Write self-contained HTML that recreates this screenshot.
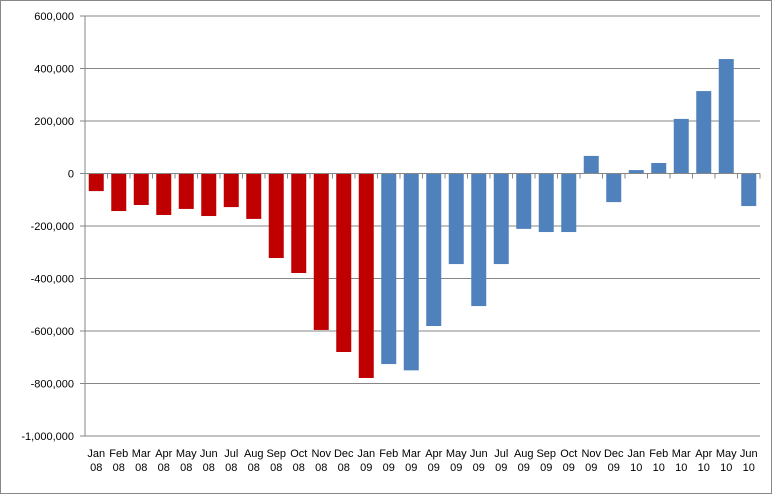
<!DOCTYPE html>
<html><head><meta charset="utf-8"><style>
body{margin:0;background:#fff;}
svg{display:block;font-family:"Liberation Sans",Arial,sans-serif;font-size:11px;}
</style></head><body>
<svg id="chart" width="772" height="494">
<rect x="0.5" y="0.5" width="771" height="493" fill="#fff" stroke="#888"/>
<g id="grid"></g><g id="bars"></g><g id="axes"></g><g id="labels"></g>
</svg>
<script>
const categories=["Jan 08","Feb 08","Mar 08","Apr 08","May 08","Jun 08","Jul 08","Aug 08","Sep 08","Oct 08","Nov 08","Dec 08","Jan 09","Feb 09","Mar 09","Apr 09","May 09","Jun 09","Jul 09","Aug 09","Sep 09","Oct 09","Nov 09","Dec 09","Jan 10","Feb 10","Mar 10","Apr 10","May 10","Jun 10"];
const values=[-67000,-143000,-120000,-158000,-135000,-162000,-128000,-173000,-322000,-379000,-596000,-680000,-779000,-726000,-750000,-581000,-345000,-505000,-345000,-211000,-223000,-223000,67000,-109000,13000,40000,208000,314000,436000,-124000];
const redCount=13;
const yTicks=[600000,400000,200000,0,-200000,-400000,-600000,-800000,-1000000];
const yMax=600000,yMin=-1000000;
const plotLeft=85,plotRight=760,plotTop=16,plotBottom=436;
const ns="http://www.w3.org/2000/svg";
function yScale(v){return plotTop+(yMax-v)/(yMax-yMin)*(plotBottom-plotTop);}
const step=(plotRight-plotLeft)/categories.length;
function xc(i){return plotLeft+step*(i+0.5);}
function mk(t,a,p){const e=document.createElementNS(ns,t);for(const k in a)e.setAttribute(k,a[k]);document.getElementById(p).appendChild(e);return e;}
yTicks.forEach(t=>{
 const g=mk("line",{x1:plotLeft,x2:plotRight,y1:yScale(t),y2:yScale(t),stroke:"#868686","stroke-width":1},"grid");
 
 
 const tk=mk("line",{x1:plotLeft-5,x2:plotLeft,y1:yScale(t),y2:yScale(t),stroke:"#868686"},"axes");
 
 
 const l=mk("text",{x:plotLeft-11,y:yScale(t)+4,"text-anchor":"end",fill:"#000"},"labels");
 l.textContent=t.toLocaleString("en-US");
 
 
});
const bw=15;
values.forEach((v,i)=>{
 const y0=yScale(0),y1=yScale(v);
 const r=mk("rect",{x:xc(i)-bw/2,y:Math.min(y0,y1),width:bw,height:Math.abs(y1-y0),fill:i<redCount?"#C00000":"#4F81BD"},"bars");
 
 
 const parts=categories[i].split(" ");
 parts.forEach((p,j)=>{
  const t=mk("text",{x:xc(i),y:457+j*14,"text-anchor":"middle",fill:"#000"},"labels");
  t.textContent=p;
  
  
 });
});
const ax=mk("line",{x1:plotLeft,x2:plotLeft,y1:plotTop,y2:plotBottom,stroke:"#868686"},"axes");


const zx=mk("line",{x1:plotLeft,x2:plotRight,y1:yScale(0),y2:yScale(0),stroke:"#868686"},"axes");


for(let i=0;i<=categories.length;i++){
 const t=mk("line",{x1:plotLeft+step*i,x2:plotLeft+step*i,y1:yScale(0),y2:yScale(0)+5,stroke:"#868686"},"axes");
 
 
}
</script>
</body></html>
